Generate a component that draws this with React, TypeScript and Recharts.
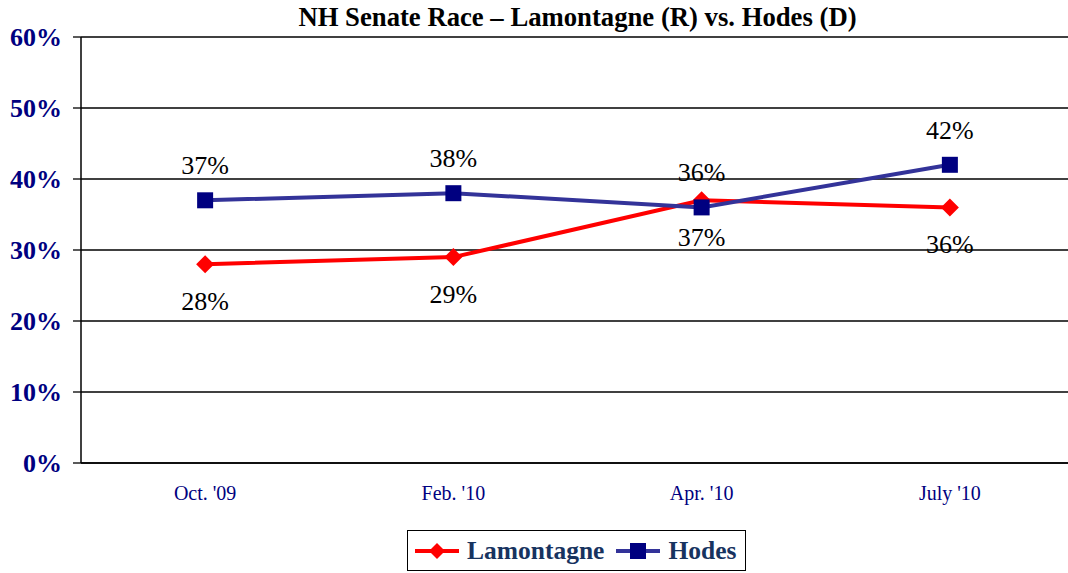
import React from 'react';
import { LineChart, Line, XAxis, YAxis, CartesianGrid, LabelList } from 'recharts';

const months = ["Oct. '09", "Feb. '10", "Apr. '10", "July '10"];
const lamontagne = [28, 29, 37, 36];
const hodes = [37, 38, 36, 42];
const yTicks = [0, 10, 20, 30, 40, 50, 60];

const data = months.map((m, i) => ({ month: m, Lamontagne: lamontagne[i], Hodes: hodes[i] }));

const SERIF = '"Liberation Serif", "Times New Roman", serif';
const RED = '#ff0000';
const BLUE_LINE = '#333399';
const NAVY = '#000080';

const Diamond = (props: any) => {
  const { cx, cy } = props;
  if (cx == null || cy == null) return null;
  const r = 9;
  return <polygon points={`${cx},${cy - r} ${cx + r},${cy} ${cx},${cy + r} ${cx - r},${cy}`} fill={RED} />;
};

const Square = (props: any) => {
  const { cx, cy } = props;
  if (cx == null || cy == null) return null;
  return <rect x={cx - 8} y={cy - 8} width={16} height={16} fill={NAVY} />;
};

const pct = (v: number) => `${v}%`;

// labels above (dy < 0) or below the point, baseline offset
const makeLabel = (dy: number) => (props: any) => {
  const { x, y, value } = props;
  if (x == null || y == null) return null;
  return (
    <text x={x} y={y + dy} textAnchor="middle" fill="#000" fontSize={26} fontFamily={SERIF} style={{ fontFamily: SERIF }}>
      {pct(value)}
    </text>
  );
};

export default function App() {
  return (
    <div style={{ position: 'absolute', left: 0, top: 0, width: 1068, height: 573, overflow: 'hidden', background: '#fff', fontFamily: SERIF }}>
      <div style={{ position: 'absolute', left: 81, width: 993, top: 2, textAlign: 'center', fontWeight: 'bold', fontSize: 26.7, lineHeight: '30px', color: '#000', fontFamily: SERIF }}>
        NH Senate Race – Lamontagne (R) vs. Hodes (D)
      </div>
      <LineChart width={1074} height={573} data={data} margin={{ top: 37, right: 0, left: 0, bottom: 70 }}>
        <CartesianGrid vertical={false} stroke="#000" strokeWidth={1.3} />
        <XAxis
          dataKey="month"
          scale="band"
          height={40}
          tickLine={false}
          axisLine={{ stroke: '#000', strokeWidth: 1.3 }}
          tickMargin={17}
          tick={{ fill: NAVY, fontSize: 20, fontFamily: SERIF }}
          interval={0}
        />
        <YAxis
          width={81}
          domain={[0, 60]}
          ticks={yTicks}
          tickFormatter={pct}
          tickSize={8}
          tickMargin={11}
          axisLine={{ stroke: '#000', strokeWidth: 1.5 }}
          tickLine={{ stroke: '#000', strokeWidth: 1.3 }}
          tick={{ fill: NAVY, fontSize: 26, fontWeight: 'bold', fontFamily: SERIF }}
        />
        <Line dataKey="Lamontagne" stroke={RED} strokeWidth={4} dot={<Diamond />} activeDot={false} isAnimationActive={false}>
          <LabelList dataKey="Lamontagne" content={makeLabel(46)} />
        </Line>
        <Line dataKey="Hodes" stroke={BLUE_LINE} strokeWidth={4} dot={<Square />} activeDot={false} isAnimationActive={false}>
          <LabelList dataKey="Hodes" content={makeLabel(-26)} />
        </Line>
      </LineChart>
      <div style={{ position: 'absolute', left: 407, top: 530, width: 337, height: 39, border: '1.5px solid #000', display: 'flex', alignItems: 'center', fontWeight: 'bold', fontSize: 25.5, color: '#17335f', fontFamily: SERIF }}>
        <svg width={48} height={20} style={{ marginLeft: 5 }}>
          <line x1={2} y1={10} x2={46} y2={10} stroke={RED} strokeWidth={4} />
          <polygon points="24,2 32,10 24,18 16,10" fill={RED} />
        </svg>
        <span style={{ marginLeft: 6 }}>Lamontagne</span>
        <svg width={48} height={20} style={{ marginLeft: 10 }}>
          <line x1={2} y1={10} x2={46} y2={10} stroke={BLUE_LINE} strokeWidth={4} />
          <rect x={16} y={2} width={16} height={16} fill={NAVY} />
        </svg>
        <span style={{ marginLeft: 6 }}>Hodes</span>
      </div>
    </div>
  );
}
